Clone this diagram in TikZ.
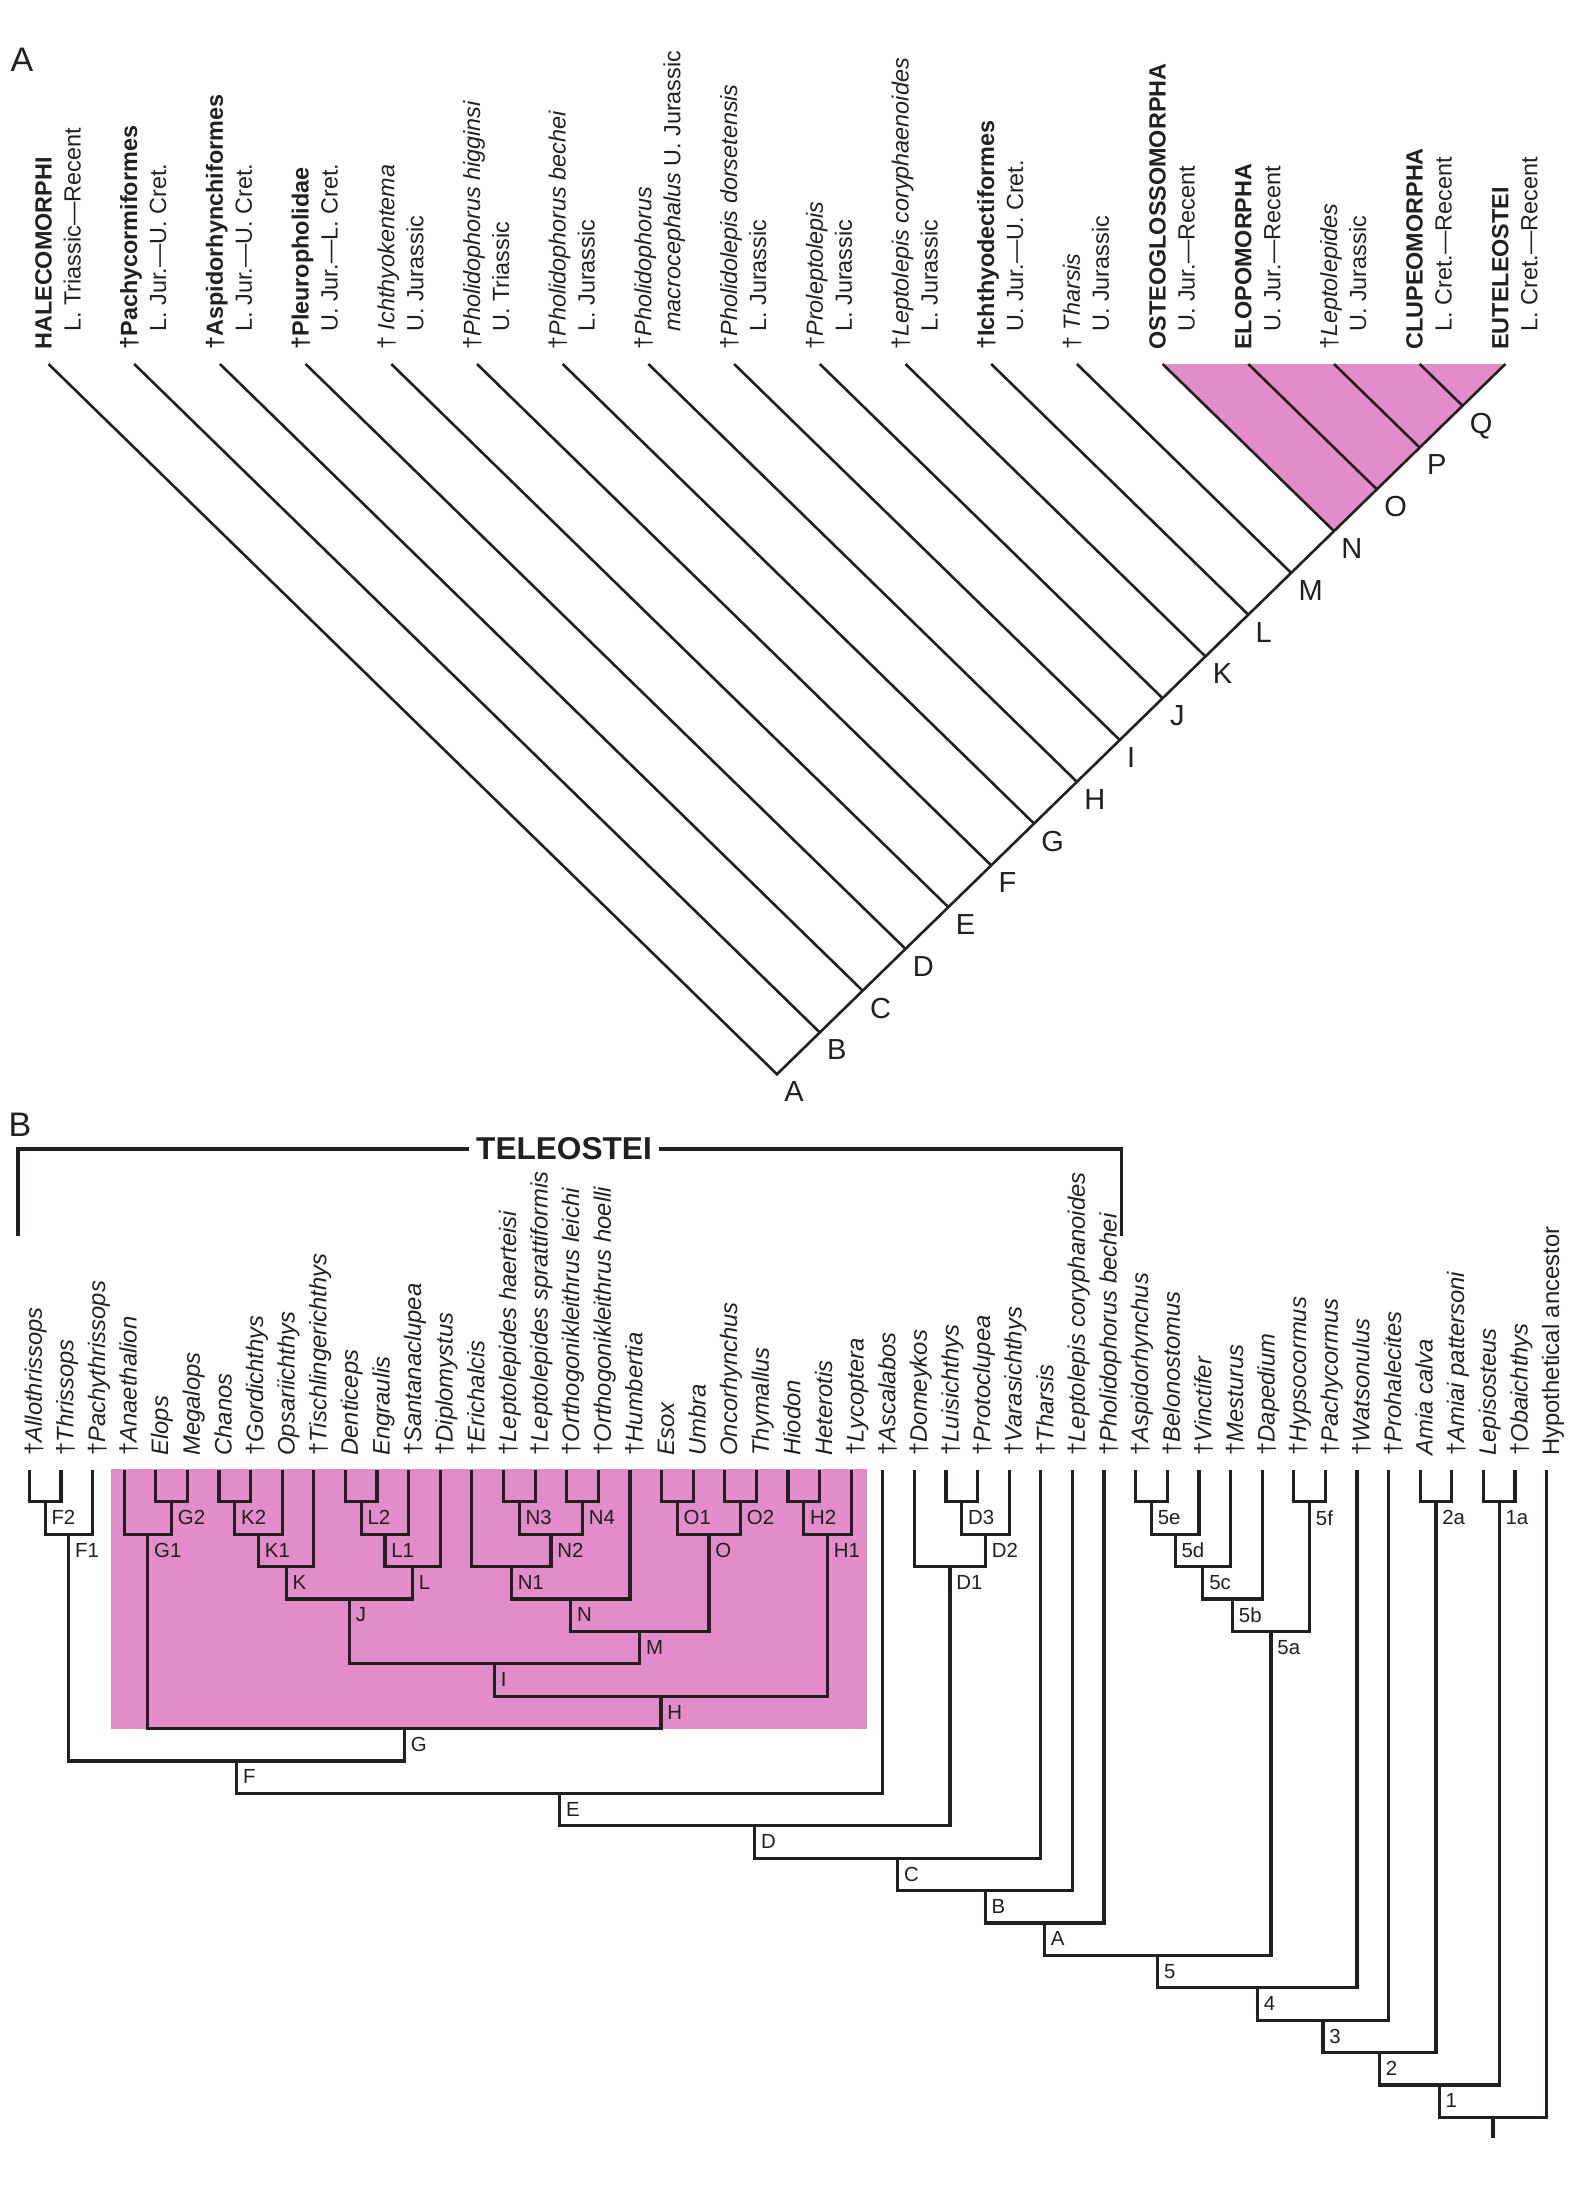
\documentclass[tikz,border=0pt]{standalone}
\usepackage{fontspec}
\setmainfont{Liberation Sans}
\usetikzlibrary{calc}
\definecolor{pinkfill}{RGB}{226,140,202}
\definecolor{ink}{RGB}{35,31,32}
\newcommand\dgr{†}
\begin{document}
\begin{tikzpicture}[x=0.5pt,y=-0.5pt,
  aline/.style={draw=ink,line width=1.3pt},
  tree/.style={draw=ink,line width=1.6pt},
  albl/.style={rotate=90,anchor=base west,inner sep=0pt,font=\fontsize{11.7}{14}\selectfont,text=ink},
  blbl/.style={rotate=90,anchor=base west,inner sep=0pt,font=\fontsize{11.9}{14}\selectfont,text=ink},
  alet/.style={anchor=north west,inner sep=0pt,font=\fontsize{14.5}{16}\selectfont,text=ink},
  blet/.style={anchor=west,inner sep=0pt,font=\fontsize{10.2}{12}\selectfont,text=ink},
  panel/.style={inner sep=0pt,font=\fontsize{17}{19}\selectfont,text=ink}]
\useasboundingbox[fill=white] (0,0) rectangle (1573,2202);

\newcommand\alab[3]{%
  \node[albl] (la#1) at ($(ta#1)+(3,-14)$) {#2};
  \node[albl] (lb#1) at ($(ta#1)+(32,-32)$) {#3};}
\newcommand\leaf[3]{%
  \coordinate (t#1) at (#2,1470);
  \node[blbl] (lt#1) at ($(t#1)+(12.5,-14)$) {#3};}
\newcommand\clade[6]{%
  \coordinate (#1) at (#4,#5);
  \draw[tree] (#2) |- (#1) -| (#3);
  \node[blet] (l#1) at ($(#1)+(6,16)$) {#6};}

% panel letters
\node[panel] (pA) at (22,60) {A};
\node[panel] (pB) at (20,1125) {B};

% ---------------- Part A ----------------
\foreach \k in {0,...,17} {
  \pgfmathsetmacro\xx{48.5+85.7*\k}
  \coordinate (ta\k) at (\xx,364);
}
\foreach \k in {0,...,16} {
  \pgfmathsetmacro\xx{48.5+85.7*\k}
  \pgfmathsetmacro\nx{(\xx+1505.4)/2}
  \pgfmathsetmacro\ny{364+(1505.4-\xx)/2*0.975}
  \coordinate (na\k) at (\nx,\ny);
}
\fill[pinkfill] (ta13) -- (ta17) -- (na13) -- cycle;
\draw[aline,line join=miter] (ta0) -- (na0) -- (ta17);
\foreach \k in {1,...,16} { \draw[aline] (ta\k) -- (na\k); }
\foreach \k/\q in {0/A,1/B,2/C,3/D,4/E,5/F,6/G,7/H,8/I,9/J,10/K,11/L,12/M,13/N,14/O,15/P,16/Q} {
  \node[alet] (al\q) at ($(na\k)+(7,7)$) {\q};
}

\alab{0}{\textbf{HALECOMORPHI}}{L. Triassic—Recent}
\alab{1}{\textbf{†Pachycormiformes}}{L. Jur.—U. Cret.}
\alab{2}{\textbf{†Aspidorhynchiformes}}{L. Jur.—U. Cret.}
\alab{3}{\textbf{†Pleuropholidae}}{U. Jur.—L. Cret.}
\alab{4}{† \textit{Ichthyokentema}}{U. Jurassic}
\alab{5}{†\textit{Pholidophorus higginsi}}{U. Triassic}
\alab{6}{†\textit{Pholidophorus bechei}}{L. Jurassic}
\alab{7}{†\textit{Pholidophorus}}{\textit{macrocephalus} U. Jurassic}
\alab{8}{†\textit{Pholidolepis dorsetensis}}{L. Jurassic}
\alab{9}{†\textit{Proleptolepis}}{L. Jurassic}
\alab{10}{†\textit{Leptolepis coryphaenoides}}{L. Jurassic}
\alab{11}{\textbf{†Ichthyodectiformes}}{U. Jur.—U. Cret.}
\alab{12}{† \textit{Tharsis}}{U. Jurassic}
\alab{13}{\textbf{OSTEOGLOSSOMORPHA}}{U. Jur.—Recent}
\alab{14}{\textbf{ELOPOMORPHA}}{U. Jur.—Recent}
\alab{15}{†\textit{Leptolepides}}{U. Jurassic}
\alab{16}{\textbf{CLUPEOMORPHA}}{L. Cret.—Recent}
\alab{17}{\textbf{EUTELEOSTEI}}{L. Cret.—Recent}

% ---------------- Part B ----------------
\fill[pinkfill] (110.7,1469.3) rectangle (866.7,1728.5);

\coordinate (telL) at (18,1236);
\coordinate (telR) at (1121.7,1236);
\node[font=\bfseries\fontsize{15.8}{18}\selectfont,inner xsep=3.5pt,inner ysep=0pt,text=ink] (tel) at (564,1149) {TELEOSTEI};
\draw[tree] (telL) |- (tel.west);
\draw[tree] (tel.east) -| (telR);

\leaf{1}{29.3}{\dgr\textit{Allothrissops}}
\leaf{2}{60.9}{\dgr\textit{Thrissops}}
\leaf{3}{92.5}{\dgr\textit{Pachythrissops}}
\leaf{4}{124.1}{\dgr\textit{Anaethalion}}
\leaf{5}{155.7}{\textit{Elops}}
\leaf{6}{187.4}{\textit{Megalops}}
\leaf{7}{219.0}{\textit{Chanos}}
\leaf{8}{250.6}{\dgr\textit{Gordichthys}}
\leaf{9}{282.2}{\textit{Opsariichthys}}
\leaf{10}{313.8}{\dgr\textit{Tischlingerichthys}}
\leaf{11}{345.4}{\textit{Denticeps}}
\leaf{12}{377.0}{\textit{Engraulis}}
\leaf{13}{408.6}{\dgr\textit{Santanaclupea}}
\leaf{14}{440.2}{\dgr\textit{Diplomystus}}
\leaf{15}{471.8}{\dgr\textit{Erichalcis}}
\leaf{16}{503.5}{\dgr\textit{Leptolepides haerteisi}}
\leaf{17}{535.1}{\dgr\textit{Leptolepides sprattiformis}}
\leaf{18}{566.7}{\dgr\textit{Orthogonikleithrus leichi}}
\leaf{19}{598.3}{\dgr\textit{Orthogonikleithrus hoelli}}
\leaf{20}{629.9}{\dgr\textit{Humbertia}}
\leaf{21}{661.5}{\textit{Esox}}
\leaf{22}{693.1}{\textit{Umbra}}
\leaf{23}{724.7}{\textit{Oncorhynchus}}
\leaf{24}{756.3}{\textit{Thymallus}}
\leaf{25}{787.9}{\textit{Hiodon}}
\leaf{26}{819.6}{\textit{Heterotis}}
\leaf{27}{851.2}{\dgr\textit{Lycoptera}}
\leaf{28}{882.8}{\dgr\textit{Ascalabos}}
\leaf{29}{914.4}{\dgr\textit{Domeykos}}
\leaf{30}{946.0}{\dgr\textit{Luisichthys}}
\leaf{31}{977.6}{\dgr\textit{Protoclupea}}
\leaf{32}{1009.2}{\dgr\textit{Varasichthys}}
\leaf{33}{1040.8}{\dgr\textit{Tharsis}}
\leaf{34}{1072.4}{\dgr\textit{Leptolepis coryphanoides}}
\leaf{35}{1104.0}{\dgr\textit{Pholidophorus bechei}}
\leaf{36}{1135.6}{\dgr\textit{Aspidorhynchus}}
\leaf{37}{1167.3}{\dgr\textit{Belonostomus}}
\leaf{38}{1198.9}{\dgr\textit{Vinctifer}}
\leaf{39}{1230.5}{\dgr\textit{Mesturus}}
\leaf{40}{1262.1}{\dgr\textit{Dapedium}}
\leaf{41}{1293.7}{\dgr\textit{Hypsocormus}}
\leaf{42}{1325.3}{\dgr\textit{Pachycormus}}
\leaf{43}{1356.9}{\dgr\textit{Watsonulus}}
\leaf{44}{1388.5}{\dgr\textit{Prohalecites}}
\leaf{45}{1420.1}{\textit{Amia calva}}
\leaf{46}{1451.7}{\dgr\textit{Amiai pattersoni}}
\leaf{47}{1483.4}{\textit{Lepisosteus}}
\leaf{48}{1515.0}{\dgr\textit{Obaichthys}}
\leaf{49}{1546.6}{Hypothetical ancestor}

\clade{cF2}{t1}{t2}{45.1}{1501.7}{F2}
\clade{cF1}{cF2}{t3}{68.8}{1534.1}{F1}
\clade{cG2}{t5}{t6}{171.55}{1501.7}{G2}
\clade{cG1}{t4}{cG2}{147.8}{1534.1}{G1}
\clade{cK2}{t7}{t8}{234.8}{1501.7}{K2}
\clade{cK1}{cK2}{t9}{258.5}{1534.1}{K1}
\clade{cK}{cK1}{t10}{286.15}{1566.5}{K}
\clade{cL2}{t11}{t12}{361.2}{1501.7}{L2}
\clade{cL1}{cL2}{t13}{384.9}{1534.1}{L1}
\clade{cL}{cL1}{t14}{412.55}{1566.5}{L}
\clade{cJ}{cK}{cL}{349.35}{1598.9}{J}
\clade{cN3}{t16}{t17}{519.3}{1501.7}{N3}
\clade{cN4}{t18}{t19}{582.5}{1501.7}{N4}
\clade{cN2}{cN3}{cN4}{550.9}{1534.1}{N2}
\clade{cN1}{t15}{cN2}{511.35}{1566.5}{N1}
\clade{cN}{cN1}{t20}{570.6}{1598.9}{N}
\clade{cO1}{t21}{t22}{677.3}{1501.7}{O1}
\clade{cO2}{t23}{t24}{740.5}{1501.7}{O2}
\clade{cO}{cO1}{cO2}{708.9}{1534.1}{O}
\clade{cM}{cN}{cO}{639.75}{1631.3}{M}
\clade{cI}{cJ}{cM}{494.55}{1663.7}{I}
\clade{cH2}{t25}{t26}{803.75}{1501.7}{H2}
\clade{cH1}{cH2}{t27}{827.5}{1534.1}{H1}
\clade{cH}{cI}{cH1}{661.0}{1696.1}{H}
\clade{cG}{cG1}{cH}{404.4}{1728.5}{G}
\clade{cF}{cF1}{cG}{236.6}{1760.9}{F}
\clade{cE}{cF}{t28}{559.7}{1793.3}{E}
\clade{cD3}{t30}{t31}{961.8}{1501.7}{D3}
\clade{cD2}{cD3}{t32}{985.5}{1534.1}{D2}
\clade{cD1}{t29}{cD2}{949.95}{1566.5}{D1}
\clade{cD}{cE}{cD1}{754.8}{1825.7}{D}
\clade{cC}{cD}{t33}{897.8}{1858.1}{C}
\clade{cB}{cC}{t34}{985.1}{1890.5}{B}
\clade{cA}{cB}{t35}{1044.55}{1922.9}{A}
\clade{c5e}{t36}{t37}{1151.45}{1501.7}{5e}
\clade{c5d}{c5e}{t38}{1175.2}{1534.1}{5d}
\clade{c5c}{c5d}{t39}{1202.85}{1566.5}{5c}
\clade{c5b}{c5c}{t40}{1232.5}{1598.9}{5b}
\clade{c5f}{t41}{t42}{1309.5}{1501.7}{5f}
\clade{c5a}{c5b}{c5f}{1271.0}{1631.3}{5a}
\clade{c5}{cA}{c5a}{1157.8}{1955.3}{5}
\clade{c4}{c5}{t43}{1257.35}{1987.7}{4}
\clade{c3}{c4}{t44}{1322.9}{2020.1}{3}
\clade{c2a}{t45}{t46}{1435.9}{1501.7}{2a}
\clade{c2}{c3}{c2a}{1379.4}{2052.5}{2}
\clade{c1a}{t47}{t48}{1499.2}{1501.7}{1a}
\clade{c1}{c2}{c1a}{1439.3}{2084.9}{1}
\coordinate (root) at (1492.95,2117.3);
\coordinate (rootend) at (1492.95,2138);
\draw[tree] (c1) |- (root) -| (t49);
\draw[tree] (root) -- (rootend);
\end{tikzpicture}
\end{document}
